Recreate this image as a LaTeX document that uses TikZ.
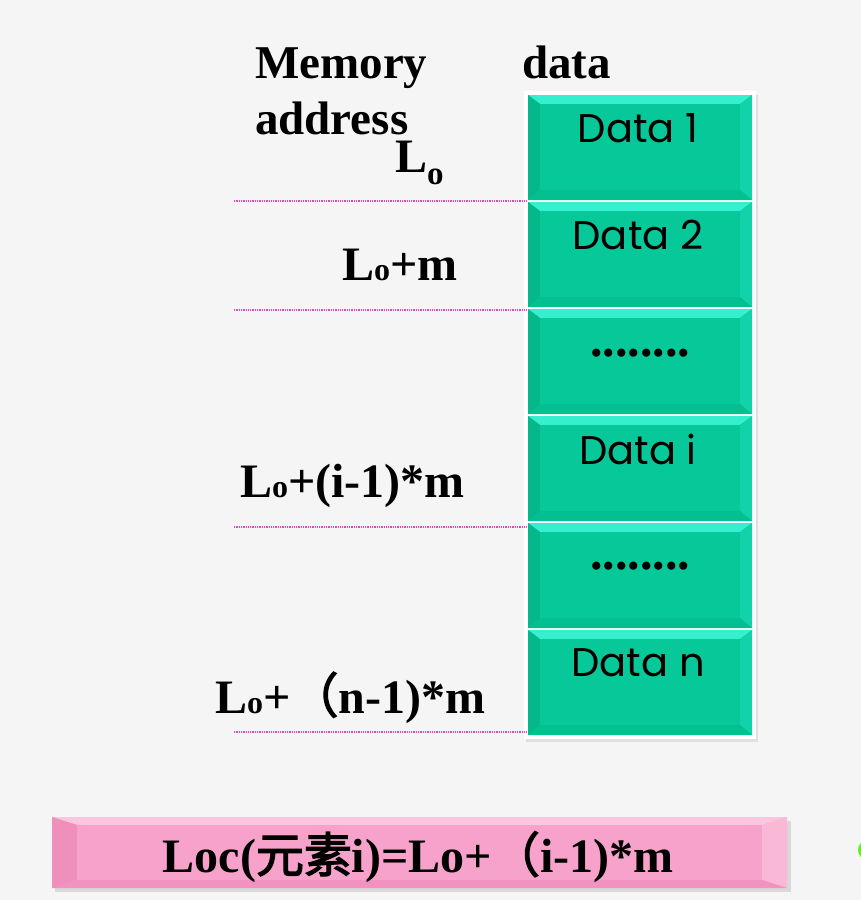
\documentclass[tikz,border=0pt]{standalone}
\usepackage{fontspec}
\setmainfont{Liberation Serif}
\newfontfamily\cjk{Noto Sans CJK SC}[AutoFakeBold=2.5]
\newfontfamily\datafont{Poppins}
\definecolor{bgc}{HTML}{F5F5F5}
\definecolor{gmain}{HTML}{07C898}
\definecolor{gtop}{HTML}{35EFCF}
\definecolor{gleft}{HTML}{05B88C}
\definecolor{gright}{HTML}{12D2AA}
\definecolor{gbot}{HTML}{04C090}
\definecolor{pmain}{HTML}{F7A2CA}
\definecolor{ptop}{HTML}{FBC6DE}
\definecolor{pleft}{HTML}{EE8FBC}
\definecolor{pright}{HTML}{F9B8D6}
\definecolor{pbot}{HTML}{F292C0}
\definecolor{dotc}{HTML}{E04AB8}
\tikzset{
  lbl/.style={inner sep=0pt, anchor=base west, font=\fontsize{48}{50}\selectfont\bfseries},
  hdr/.style={inner sep=0pt, anchor=base west, font=\fontsize{47}{50}\selectfont\bfseries},
  dtxt/.style={inner sep=0pt, font=\fontsize{40}{42}\datafont},
  dots/.style={inner sep=0pt, anchor=base, font=\fontsize{50}{50}\selectfont\bfseries},
  sep/.style={dotc, densely dotted, line width=1.3pt},
}
\newcommand{\Lsub}{L\raisebox{-0.25em}{\fontsize{33}{33}\selectfont o}}
\newcommand{\Lsm}{L{\fontsize{32}{32}\selectfont o}}
\newcommand{\gbox}[2]{% name, top y
  \coordinate (#1) at (528,#2);
  \fill[gmain] (528,#2) rectangle (752,#2+105);
  \fill[gtop] (528,#2) -- (752,#2) -- (740,#2+9) -- (540,#2+9) -- cycle;
  \fill[gleft] (528,#2) -- (540,#2+9) -- (540,#2+95) -- (528,#2+105) -- cycle;
  \fill[gright] (752,#2) -- (740,#2+9) -- (740,#2+95) -- (752,#2+105) -- cycle;
  \fill[gbot] (528,#2+105) -- (540,#2+95) -- (740,#2+95) -- (752,#2+105) -- cycle;
  \fill[gmain] (540,#2+9) rectangle (740,#2+95);
}
\begin{document}
\begin{tikzpicture}[x=1pt,y=-1pt]
\useasboundingbox (0,0) rectangle (861,900);
\fill[bgc] (0,0) rectangle (861,900);
% column shadow / white frame
\fill[black!12] (526,95) rectangle (758,742);
\fill[white] (524,91) rectangle (756,739);
\gbox{b1}{95}
\gbox{b2}{202}
\gbox{b3}{309}
\gbox{b4}{416}
\gbox{b5}{523}
\gbox{b6}{630}
\node[dtxt] (d1) at (638,128) {Data 1};
\node[dtxt] (d2) at (638,235) {Data 2};
\node[dots] (d3) at (640,356) {........};
\node[dtxt] (d4) at (638,449) {Data i};
\node[dots] (d5) at (640,569) {........};
\node[dtxt] (d6) at (638,663) {Data n};
% headers
\node[hdr] (mem) at (255,78) {Memory};
\node[hdr] (addr) at (255,134) {address};
\node[hdr] (data) at (522,78) {data};
% address labels
\node[lbl] (a1) at (395,172) {\Lsub};
\node[lbl] (a2) at (342,280) {\Lsm+m};
\node[lbl] (a3) at (240,497) {\Lsm+(i-1)*m};
\node[lbl] (a4) at (215,713) {\Lsm+{\cjk （}n-1)*m};
% separators
\coordinate (s1a) at (234,201); \coordinate (s1b) at (527,201);
\coordinate (s2a) at (234,310); \coordinate (s2b) at (527,310);
\coordinate (s3a) at (234,527); \coordinate (s3b) at (527,527);
\coordinate (s4a) at (234,732); \coordinate (s4b) at (527,732);
\draw[sep] (s1a) -- (s1b);
\draw[sep] (s2a) -- (s2b);
\draw[sep] (s3a) -- (s3b);
\draw[sep] (s4a) -- (s4b);
% bottom formula box
\fill[black!15] (55,821) rectangle (791,892);
\fill[pmain] (52,817) rectangle (787,888);
\fill[ptop] (52,817) -- (787,817) -- (762,825) -- (77,825) -- cycle;
\fill[pleft] (52,817) -- (77,825) -- (77,880) -- (52,888) -- cycle;
\fill[pright] (787,817) -- (762,825) -- (762,880) -- (787,888) -- cycle;
\fill[pbot] (52,888) -- (77,880) -- (762,880) -- (787,888) -- cycle;
\fill[pmain] (77,825) rectangle (762,880);
\node[inner sep=0pt, font=\fontsize{48}{50}\selectfont\bfseries] (loc) at (418,857) {Loc({\cjk 元素}i)=Lo+{\cjk （}i-1)*m};
% green blob at right edge
\fill[green!70!yellow!90!black, opacity=0.8] (868,850) circle (10);
\end{tikzpicture}
\end{document}
